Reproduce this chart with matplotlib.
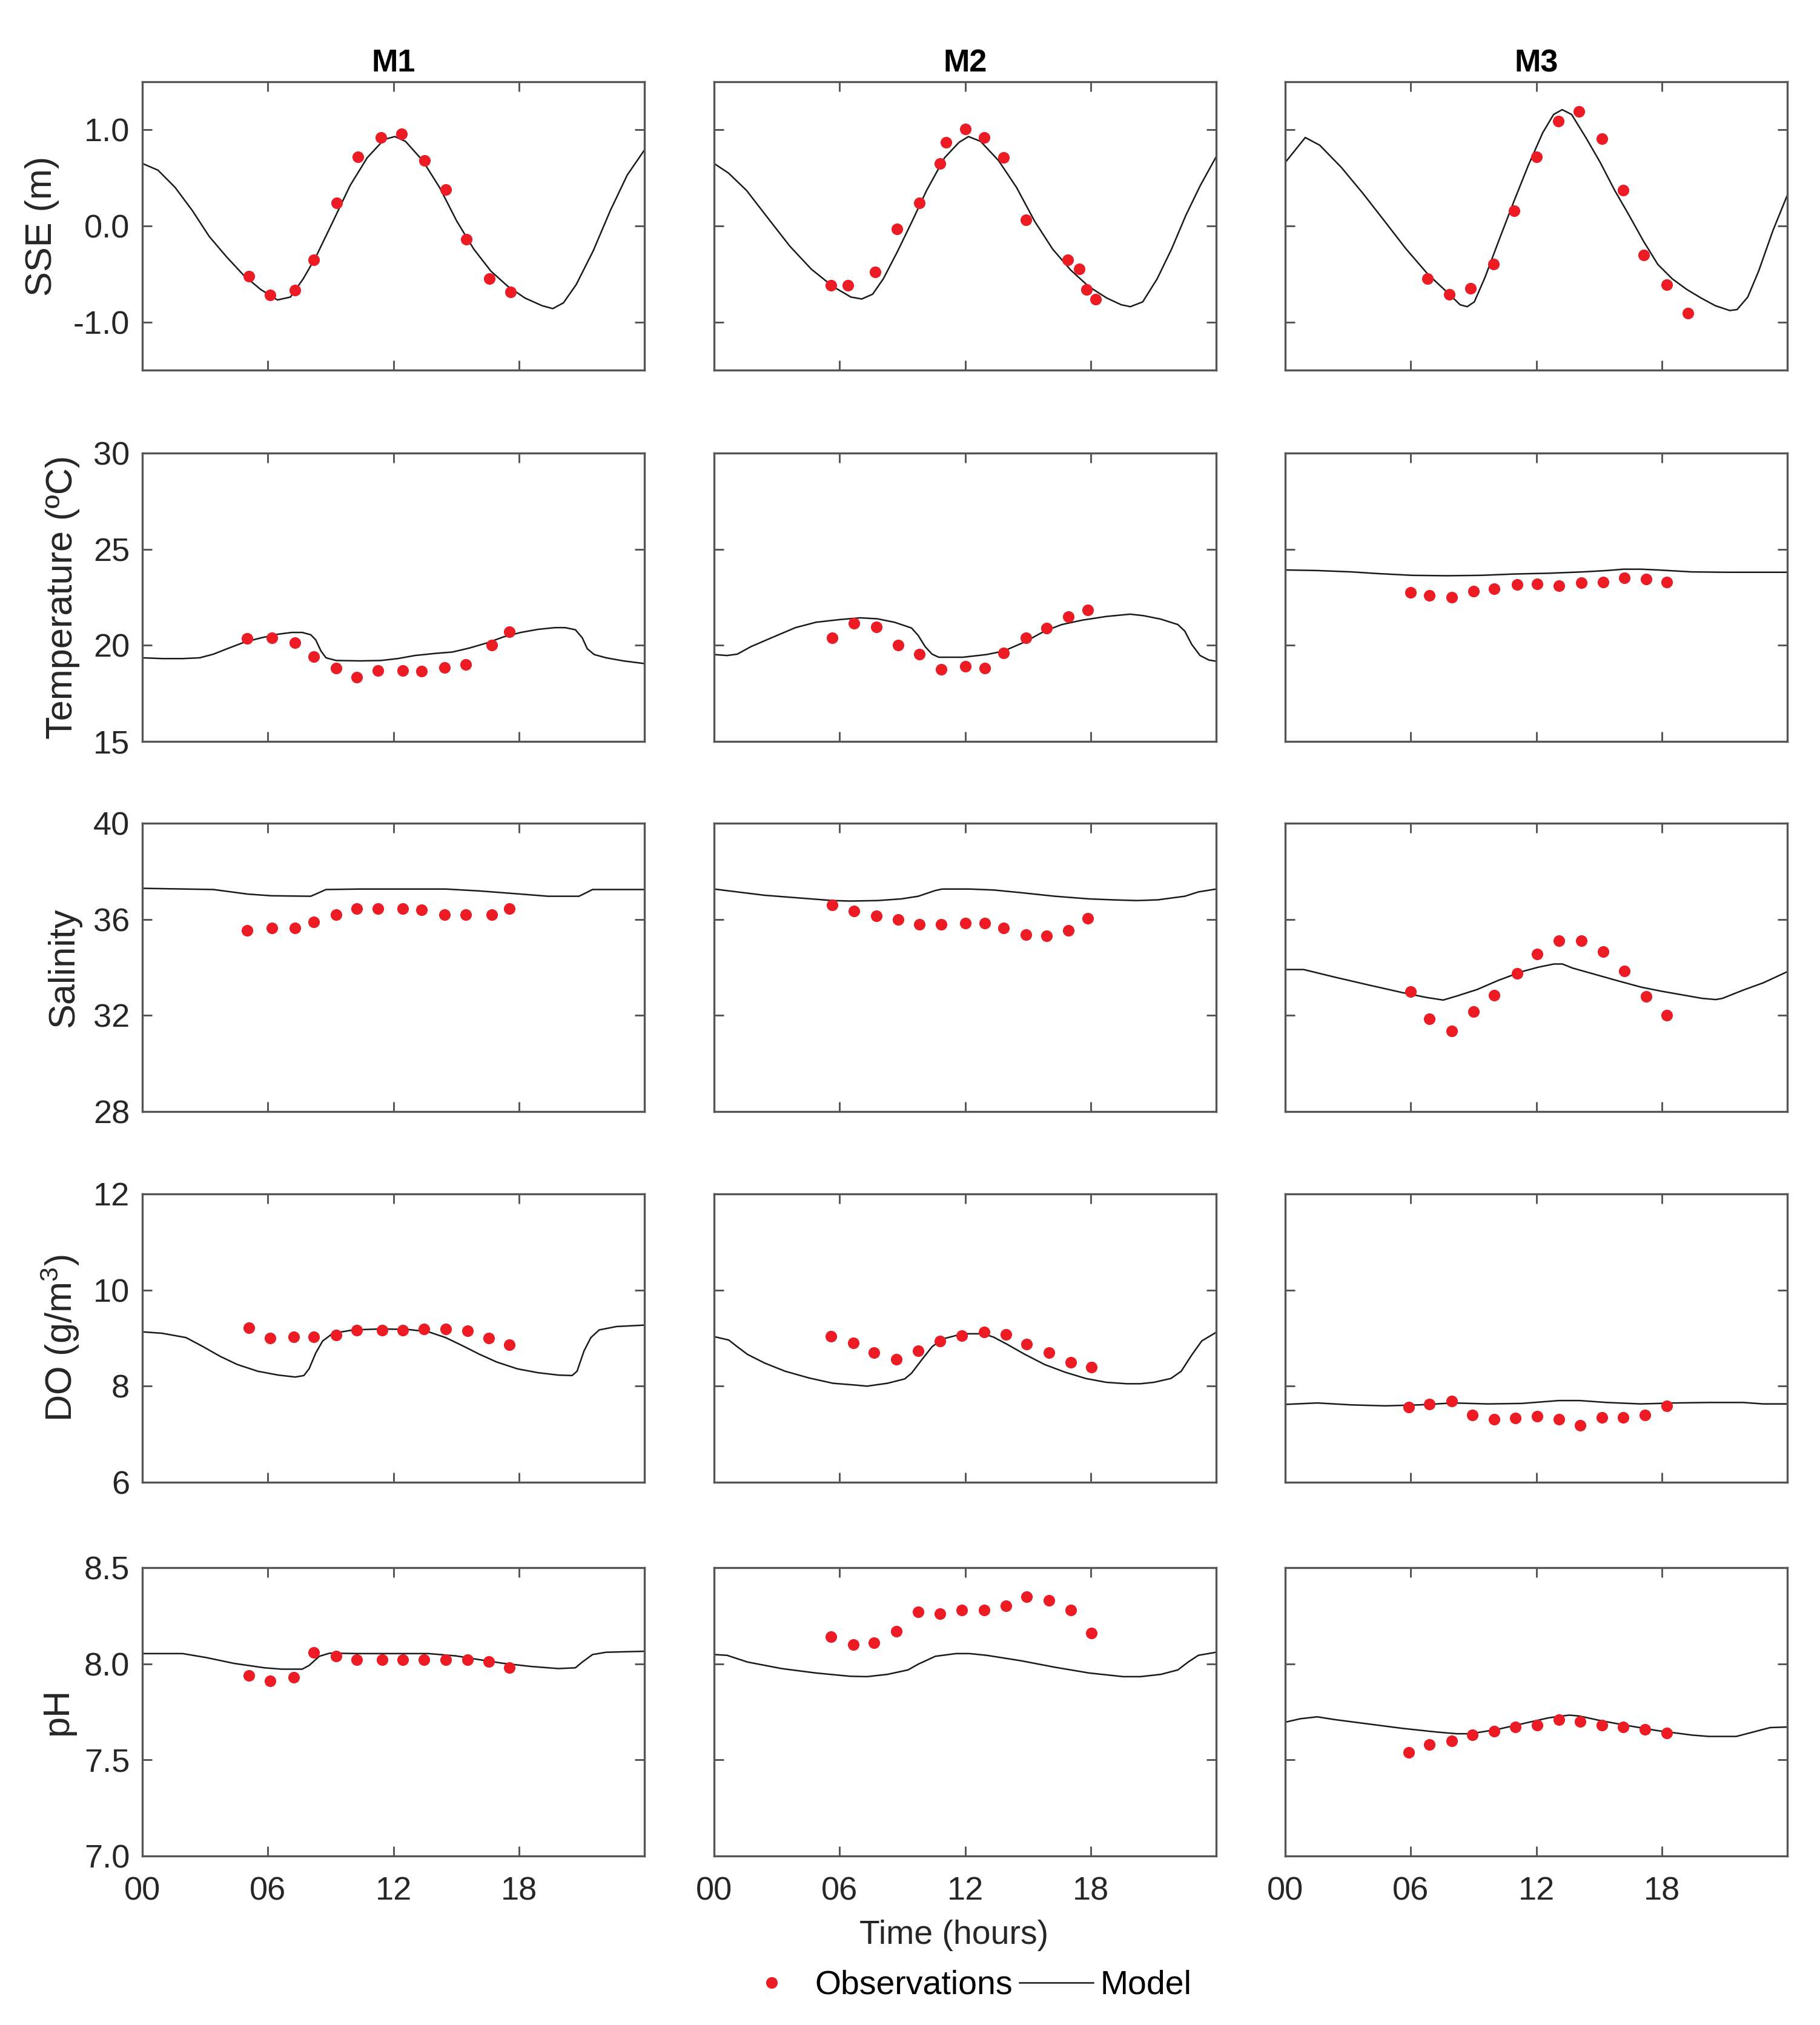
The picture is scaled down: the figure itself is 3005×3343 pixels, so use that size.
import matplotlib
matplotlib.use('Agg')
import matplotlib.pyplot as plt
from matplotlib.lines import Line2D

plt.rcParams['font.family'] = ['Liberation Sans', 'DejaVu Sans']
plt.rcParams['mathtext.fontset'] = 'custom'
plt.rcParams['mathtext.rm'] = 'Liberation Sans'
plt.rcParams['mathtext.it'] = 'Liberation Sans:italic'
plt.rcParams['axes.unicode_minus'] = False

# ---------------- data (hours, values) ----------------
stations = ['M1', 'M2', 'M3']

# observation times
m1_t_sse = [5.1, 6.1, 7.3, 8.2, 9.3, 10.3, 11.4, 12.4, 13.5, 14.5, 15.5, 16.6, 17.6]
m1_t_ts = [5.0, 6.2, 7.3, 8.2, 9.25, 10.25, 11.25, 12.45, 13.35, 14.45, 15.45, 16.7, 17.55]
m1_t_dp = [5.1, 6.1, 7.25, 8.2, 9.25, 10.25, 11.45, 12.45, 13.45, 14.5, 15.55, 16.55, 17.55]
m2_t_sse = [5.6, 6.4, 7.7, 8.75, 9.8, 10.8, 11.1, 12.0, 12.9, 13.85, 14.9, 16.9, 17.45, 17.8, 18.25]
m2_t_ts = [5.65, 6.7, 7.75, 8.8, 9.8, 10.85, 12.0, 12.95, 13.85, 14.9, 15.9, 16.95, 17.85]
m2_t_dp = [5.6, 6.65, 7.65, 8.7, 9.75, 10.8, 11.85, 12.9, 13.95, 14.95, 16.0, 17.05, 18.05]
m3_t_sse = [6.8, 7.85, 8.85, 9.95, 10.95, 12.0, 13.05, 14.05, 15.15, 16.15, 17.15, 18.25, 19.25]
m3_t_ts = [6.0, 6.9, 7.95, 9.0, 10.0, 11.1, 12.05, 13.1, 14.15, 15.2, 16.2, 17.25, 18.25]
m3_t_dp = [5.9, 6.9, 7.95, 8.95, 10.0, 11.0, 12.05, 13.1, 14.1, 15.15, 16.15, 17.2, 18.25]

# observations
sse_m1_obs = [-0.52, -0.72, -0.67, -0.35, 0.24, 0.72, 0.92, 0.96, 0.68, 0.38, -0.14, -0.55, -0.69]
sse_m2_obs = [-0.62, -0.62, -0.48, -0.03, 0.24, 0.65, 0.87, 1.01, 0.92, 0.71, 0.06, -0.35, -0.45, -0.66, -0.76]
sse_m3_obs = [-0.55, -0.71, -0.65, -0.40, 0.16, 0.72, 1.09, 1.19, 0.91, 0.37, -0.30, -0.61, -0.91]
temp_m1_obs = [20.35, 20.4, 20.15, 19.4, 18.8, 18.35, 18.7, 18.7, 18.65, 18.85, 19.0, 20.0, 20.7]
temp_m2_obs = [20.4, 21.15, 20.95, 20.0, 19.55, 18.75, 18.9, 18.8, 19.6, 20.4, 20.9, 21.5, 21.85]
temp_m3_obs = [22.75, 22.6, 22.5, 22.8, 22.95, 23.15, 23.2, 23.1, 23.25, 23.3, 23.5, 23.45, 23.3]
sal_m1_obs = [35.55, 35.65, 35.65, 35.9, 36.2, 36.45, 36.45, 36.45, 36.4, 36.2, 36.2, 36.2, 36.45]
sal_m2_obs = [36.6, 36.35, 36.15, 36.0, 35.8, 35.8, 35.85, 35.85, 35.65, 35.35, 35.3, 35.55, 36.05]
sal_m3_obs = [33.0, 31.85, 31.35, 32.15, 32.85, 33.75, 34.55, 35.1, 35.1, 34.65, 33.85, 32.8, 32.0]
do_m1_obs = [9.21, 9.0, 9.03, 9.03, 9.06, 9.16, 9.17, 9.17, 9.19, 9.19, 9.15, 9.0, 8.86]
do_m2_obs = [9.04, 8.9, 8.7, 8.56, 8.74, 8.94, 9.05, 9.13, 9.08, 8.87, 8.7, 8.49, 8.4]
do_m3_obs = [7.56, 7.63, 7.69, 7.4, 7.31, 7.34, 7.37, 7.31, 7.19, 7.35, 7.35, 7.4, 7.59]
ph_m1_obs = [7.94, 7.91, 7.93, 8.06, 8.04, 8.02, 8.02, 8.02, 8.02, 8.02, 8.02, 8.01, 7.98]
ph_m2_obs = [8.14, 8.10, 8.11, 8.17, 8.27, 8.26, 8.28, 8.28, 8.30, 8.35, 8.33, 8.28, 8.16]
ph_m3_obs = [7.54, 7.58, 7.60, 7.63, 7.65, 7.67, 7.68, 7.71, 7.70, 7.68, 7.67, 7.66, 7.64]

# model series
sse_m1_t = [0, 0.75, 1.57, 2.39, 3.2, 4.02, 4.83, 5.65, 6.46, 7.08, 7.69, 8.3, 9.12, 9.93, 10.75, 11.56,
            12.07, 12.58, 13.4, 14.21, 15.03, 15.84, 16.66, 17.48, 18.29, 19.11, 19.62, 20.13, 20.74,
            21.55, 22.37, 23.18, 24]
sse_m1 = [0.65, 0.58, 0.40, 0.16, -0.11, -0.32, -0.51, -0.66, -0.77, -0.74, -0.55, -0.32, 0.05, 0.42,
          0.71, 0.90, 0.93, 0.88, 0.68, 0.40, 0.05, -0.24, -0.47, -0.63, -0.75, -0.83, -0.86, -0.80,
          -0.61, -0.26, 0.16, 0.53, 0.79]
sse_m2_t = [0, 0.69, 1.55, 2.58, 3.62, 4.65, 5.68, 6.54, 7.06, 7.58, 8.09, 8.78, 9.47, 10.16, 11.02,
            11.71, 12.16, 12.74, 13.6, 14.46, 15.32, 16.18, 17.05, 17.91, 18.77, 19.46, 19.9, 20.49,
            21.18, 21.87, 22.55, 23.24, 24]
sse_m2 = [0.65, 0.55, 0.37, 0.08, -0.21, -0.45, -0.63, -0.74, -0.76, -0.71, -0.55, -0.26, 0.05, 0.37,
          0.71, 0.87, 0.93, 0.88, 0.68, 0.40, 0.05, -0.24, -0.46, -0.63, -0.75, -0.82, -0.84, -0.79,
          -0.55, -0.24, 0.11, 0.42, 0.72]
sse_m3_t = [0, 0.96, 1.65, 2.68, 3.71, 4.75, 5.78, 6.81, 7.84, 8.36, 8.7, 9.04, 9.56, 10.25, 10.94,
            11.62, 12.31, 12.83, 13.24, 13.69, 14.37, 15.06, 15.75, 16.44, 17.13, 17.81, 18.5, 19.19,
            19.88, 20.56, 21.25, 21.6, 22.11, 22.63, 23.31, 24]
sse_m3 = [0.66, 0.92, 0.84, 0.61, 0.34, 0.05, -0.24, -0.50, -0.71, -0.82, -0.84, -0.79, -0.53, -0.13,
          0.26, 0.63, 0.97, 1.16, 1.21, 1.16, 0.92, 0.66, 0.37, 0.11, -0.16, -0.40, -0.55, -0.66,
          -0.75, -0.83, -0.88, -0.87, -0.74, -0.47, -0.05, 0.32]

temp_m1_t = [0, 0.95, 1.93, 2.74, 3.4, 4.05, 4.87, 5.68, 6.5, 7.15, 7.64, 8.05, 8.29, 8.54, 8.78, 9.27,
             10.42, 11.4, 12.21, 13.03, 14.01, 14.82, 15.64, 16.46, 17.27, 18.09, 18.91, 19.72, 20.21,
             20.7, 21.03, 21.27, 21.6, 22.17, 22.99, 24]
temp_m1 = [19.35, 19.31, 19.31, 19.35, 19.54, 19.82, 20.16, 20.39, 20.58, 20.67, 20.67, 20.55, 20.28,
           19.7, 19.35, 19.21, 19.19, 19.21, 19.31, 19.47, 19.58, 19.65, 19.86, 20.12, 20.44, 20.67,
           20.83, 20.92, 20.92, 20.81, 20.39, 19.82, 19.52, 19.35, 19.19, 19.05]
temp_m2_t = [0, 0.62, 1.11, 1.76, 2.74, 3.89, 4.87, 6.01, 6.99, 7.8, 8.62, 9.44, 9.76, 10.09, 10.42,
             10.74, 11.89, 13.03, 13.84, 14.82, 15.8, 16.62, 17.6, 18.74, 19.89, 20.54, 21.36, 22.17,
             22.5, 22.83, 23.23, 23.64, 24]
temp_m2 = [19.52, 19.47, 19.54, 19.93, 20.39, 20.92, 21.2, 21.34, 21.43, 21.38, 21.2, 20.9, 20.51,
           19.93, 19.54, 19.38, 19.38, 19.52, 19.7, 20.16, 20.74, 21.08, 21.31, 21.5, 21.62, 21.54,
           21.36, 21.08, 20.74, 20.05, 19.47, 19.24, 19.17]
temp_m3_t = [0, 1.53, 3.16, 4.46, 6.09, 7.72, 9.35, 10.97, 12.6, 14.23, 15.37, 16.18, 17.0, 17.81,
             19.44, 21.07, 22.7, 24]
temp_m3 = [23.92, 23.89, 23.82, 23.73, 23.64, 23.62, 23.64, 23.71, 23.75, 23.82, 23.89, 23.96, 23.96,
           23.92, 23.82, 23.8, 23.8, 23.8]

sal_m1_t = [0, 3.4, 5.03, 6.17, 8.05, 8.29, 8.78, 10.42, 12.05, 14.5, 16.13, 18.09, 19.4, 20.87, 21.2,
            21.52, 24]
sal_m1 = [37.29, 37.24, 37.05, 36.98, 36.96, 37.05, 37.24, 37.26, 37.26, 37.26, 37.18, 37.05, 36.96,
          36.96, 37.1, 37.24, 37.24]
sal_m2_t = [0, 1.11, 2.42, 4.05, 5.68, 6.5, 7.8, 8.95, 9.76, 10.58, 10.91, 12.21, 13.36, 14.66, 16.29,
            17.93, 19.07, 20.21, 21.2, 22.5, 23.15, 24]
sal_m2 = [37.26, 37.14, 37.0, 36.89, 36.78, 36.76, 36.78, 36.85, 36.96, 37.2, 37.26, 37.26, 37.22,
          37.11, 36.96, 36.85, 36.81, 36.78, 36.81, 36.96, 37.14, 37.26]
sal_m3_t = [0, 0.88, 2.34, 3.97, 5.6, 6.74, 7.55, 8.21, 9.18, 10.16, 11.3, 12.11, 12.85, 13.25, 13.74,
            14.72, 15.86, 17.0, 17.97, 18.95, 19.93, 20.58, 20.9, 21.88, 22.86, 24]
sal_m3 = [33.91, 33.91, 33.6, 33.27, 32.95, 32.75, 32.64, 32.81, 33.08, 33.45, 33.82, 34.01, 34.14,
          34.14, 33.97, 33.73, 33.45, 33.18, 33.01, 32.86, 32.71, 32.66, 32.71, 33.05, 33.36, 33.82]

do_m1_t = [0, 0.95, 2.09, 2.91, 3.72, 4.54, 5.52, 6.5, 7.31, 7.72, 7.97, 8.29, 8.62, 9.11, 10.09, 11.4,
           12.7, 13.68, 14.5, 15.31, 16.13, 16.95, 17.93, 18.91, 19.89, 20.54, 20.78, 21.11, 21.44,
           21.84, 22.66, 24]
do_m1 = [9.13, 9.1, 9.01, 8.82, 8.62, 8.45, 8.31, 8.23, 8.19, 8.22, 8.36, 8.69, 8.94, 9.1, 9.17, 9.19,
         9.18, 9.13, 9.01, 8.84, 8.66, 8.5, 8.36, 8.28, 8.23, 8.22, 8.31, 8.73, 9.01, 9.17, 9.24, 9.27]
do_m2_t = [0, 0.7, 1.11, 1.6, 2.42, 3.4, 4.54, 5.68, 6.82, 7.31, 8.29, 9.11, 9.44, 9.93, 10.42, 10.91,
           11.89, 12.87, 13.36, 14.01, 14.82, 15.8, 16.78, 17.76, 18.74, 19.72, 20.38, 21.03, 21.84,
           22.33, 22.82, 23.31, 24]
do_m2 = [9.03, 8.96, 8.82, 8.66, 8.48, 8.31, 8.17, 8.06, 8.02, 8.0, 8.06, 8.15, 8.27, 8.55, 8.82, 8.98,
         9.09, 9.09, 9.02, 8.87, 8.67, 8.45, 8.29, 8.16, 8.08, 8.05, 8.05, 8.08, 8.16, 8.31, 8.64, 8.94,
         9.12]
do_m3_t = [0, 1.53, 3.16, 4.79, 6.41, 8.04, 9.67, 11.3, 13.09, 14.07, 15.37, 17.0, 18.63, 20.25, 21.88,
           22.86, 24]
do_m3 = [7.62, 7.65, 7.61, 7.59, 7.61, 7.65, 7.63, 7.64, 7.70, 7.70, 7.66, 7.63, 7.65, 7.66, 7.66,
         7.63, 7.63]

ph_m1_t = [0, 1.93, 3.07, 4.38, 5.84, 6.66, 7.64, 7.97, 8.46, 8.95, 10.42, 12.05, 13.68, 14.99, 16.13,
           17.27, 18.58, 19.89, 20.7, 21.03, 21.52, 22.17, 24]
ph_m1 = [8.053, 8.053, 8.032, 8.002, 7.979, 7.972, 7.972, 7.991, 8.039, 8.055, 8.053, 8.053, 8.053,
         8.041, 8.021, 8.002, 7.986, 7.975, 7.979, 8.009, 8.048, 8.06, 8.065]
ph_m2_t = [0, 0.62, 1.6, 3.23, 4.87, 6.5, 7.31, 8.29, 9.27, 9.76, 10.58, 11.56, 12.21, 13.03, 14.66,
           16.29, 17.93, 19.56, 20.38, 21.36, 22.17, 22.66, 23.15, 24]
ph_m2 = [8.048, 8.044, 8.009, 7.975, 7.952, 7.935, 7.933, 7.945, 7.968, 7.998, 8.039, 8.053, 8.053,
         8.044, 8.016, 7.982, 7.952, 7.933, 7.933, 7.945, 7.968, 8.009, 8.044, 8.06]
ph_m3_t = [0, 0.72, 1.53, 2.34, 3.97, 5.6, 7.23, 8.21, 8.86, 10.16, 11.46, 12.6, 13.58, 14.07, 15.04,
           16.18, 17.81, 19.44, 20.25, 21.56, 22.37, 23.18, 24]
ph_m3 = [7.696, 7.714, 7.724, 7.71, 7.687, 7.664, 7.645, 7.636, 7.636, 7.659, 7.691, 7.719, 7.733,
         7.728, 7.705, 7.682, 7.652, 7.629, 7.622, 7.622, 7.645, 7.668, 7.671]

# axis settings per row
row_labels = ['SSE (m)', 'Temperature (\u00baC)', 'Salinity', 'DO (g/m$^3$)', 'pH']
row_ylims = [(-1.5, 1.5), (15, 30), (28, 40), (6, 12), (7.0, 8.5)]
row_yticks = [[-1, 0, 1], [15, 20, 25, 30], [28, 32, 36, 40], [6, 8, 10, 12], [7.0, 7.5, 8.0, 8.5]]
row_ytick_labels = [['-1.0', '0.0', '1.0'], ['15', '20', '25', '30'], ['28', '32', '36', '40'],
                    ['6', '8', '10', '12'], ['7.0', '7.5', '8.0', '8.5']]
x_ticks = [0, 6, 12, 18]
x_tick_labels = ['00', '06', '12', '18']

rows = [
    [(sse_m1_t, sse_m1, m1_t_sse, sse_m1_obs), (sse_m2_t, sse_m2, m2_t_sse, sse_m2_obs),
     (sse_m3_t, sse_m3, m3_t_sse, sse_m3_obs)],
    [(temp_m1_t, temp_m1, m1_t_ts, temp_m1_obs), (temp_m2_t, temp_m2, m2_t_ts, temp_m2_obs),
     (temp_m3_t, temp_m3, m3_t_ts, temp_m3_obs)],
    [(sal_m1_t, sal_m1, m1_t_ts, sal_m1_obs), (sal_m2_t, sal_m2, m2_t_ts, sal_m2_obs),
     (sal_m3_t, sal_m3, m3_t_ts, sal_m3_obs)],
    [(do_m1_t, do_m1, m1_t_dp, do_m1_obs), (do_m2_t, do_m2, m2_t_dp, do_m2_obs),
     (do_m3_t, do_m3, m3_t_dp, do_m3_obs)],
    [(ph_m1_t, ph_m1, m1_t_dp, ph_m1_obs), (ph_m2_t, ph_m2, m2_t_dp, ph_m2_obs),
     (ph_m3_t, ph_m3, m3_t_dp, ph_m3_obs)],
]

# ---------------- figure ----------------
W, H = 3005, 3343
fig = plt.figure(figsize=(W / 300, H / 300), dpi=300)

col_left = [235, 1179, 2122]
col_w = 829
row_top = [135, 748, 1359, 1971, 2588]
row_h = 476
ylabel_x = [-0.165, -0.124, -0.122, -0.122, -0.134]

obs_color = '#ED1C24'
frame_color = '#555555'
text_color = '#262626'
mk = 4.6

for r in range(5):
    for c in range(3):
        ax = fig.add_axes([col_left[c] / W, 1 - (row_top[r] + row_h) / H, col_w / W, row_h / H])
        mt, mv, ot, ov = rows[r][c]
        ax.plot(mt, mv, color='#1a1a1a', lw=0.6, zorder=2)
        ax.plot(ot, ov, 'o', color=obs_color, markersize=mk, markeredgewidth=0, zorder=3)
        ax.set_xlim(0, 24)
        ax.set_ylim(*row_ylims[r])
        ax.set_xticks(x_ticks)
        ax.set_yticks(row_yticks[r])
        ax.tick_params(direction='in', length=3.8, width=0.7, color=frame_color,
                       top=True, right=True, labelsize=13, labelcolor=text_color, pad=5)
        ax.tick_params(axis='x', pad=8)
        for s in ax.spines.values():
            s.set_color(frame_color)
            s.set_linewidth(0.8)
        if c == 0:
            ax.set_yticklabels(row_ytick_labels[r])
            ax.set_ylabel(row_labels[r], fontsize=14.7, color=text_color)
            ax.yaxis.set_label_coords(ylabel_x[r], 0.5)
        else:
            ax.set_yticklabels([])
        if r == 4:
            ax.set_xticklabels(x_tick_labels)
        else:
            ax.set_xticklabels([])
        if r == 0:
            ax.set_title(stations[c], fontsize=12.5, fontweight='bold', pad=4)

fig.text(1575 / W, 1 - 3195 / H, 'Time (hours)', ha='center', va='center',
         fontsize=13.3, color=text_color)

handles = [Line2D([], [], ls='none', marker='o', color=obs_color, markersize=mk, markeredgewidth=0),
           Line2D([], [], color='#1a1a1a', lw=0.6)]
fig.legend(handles, ['Observations', 'Model'], loc='center', bbox_to_anchor=(1590 / W, 1 - 3278 / H),
           ncol=2, frameon=False, fontsize=13.3, handlelength=2.2, handletextpad=0.2,
           columnspacing=0.2, borderpad=0)

fig.savefig('out.png', dpi=300)
